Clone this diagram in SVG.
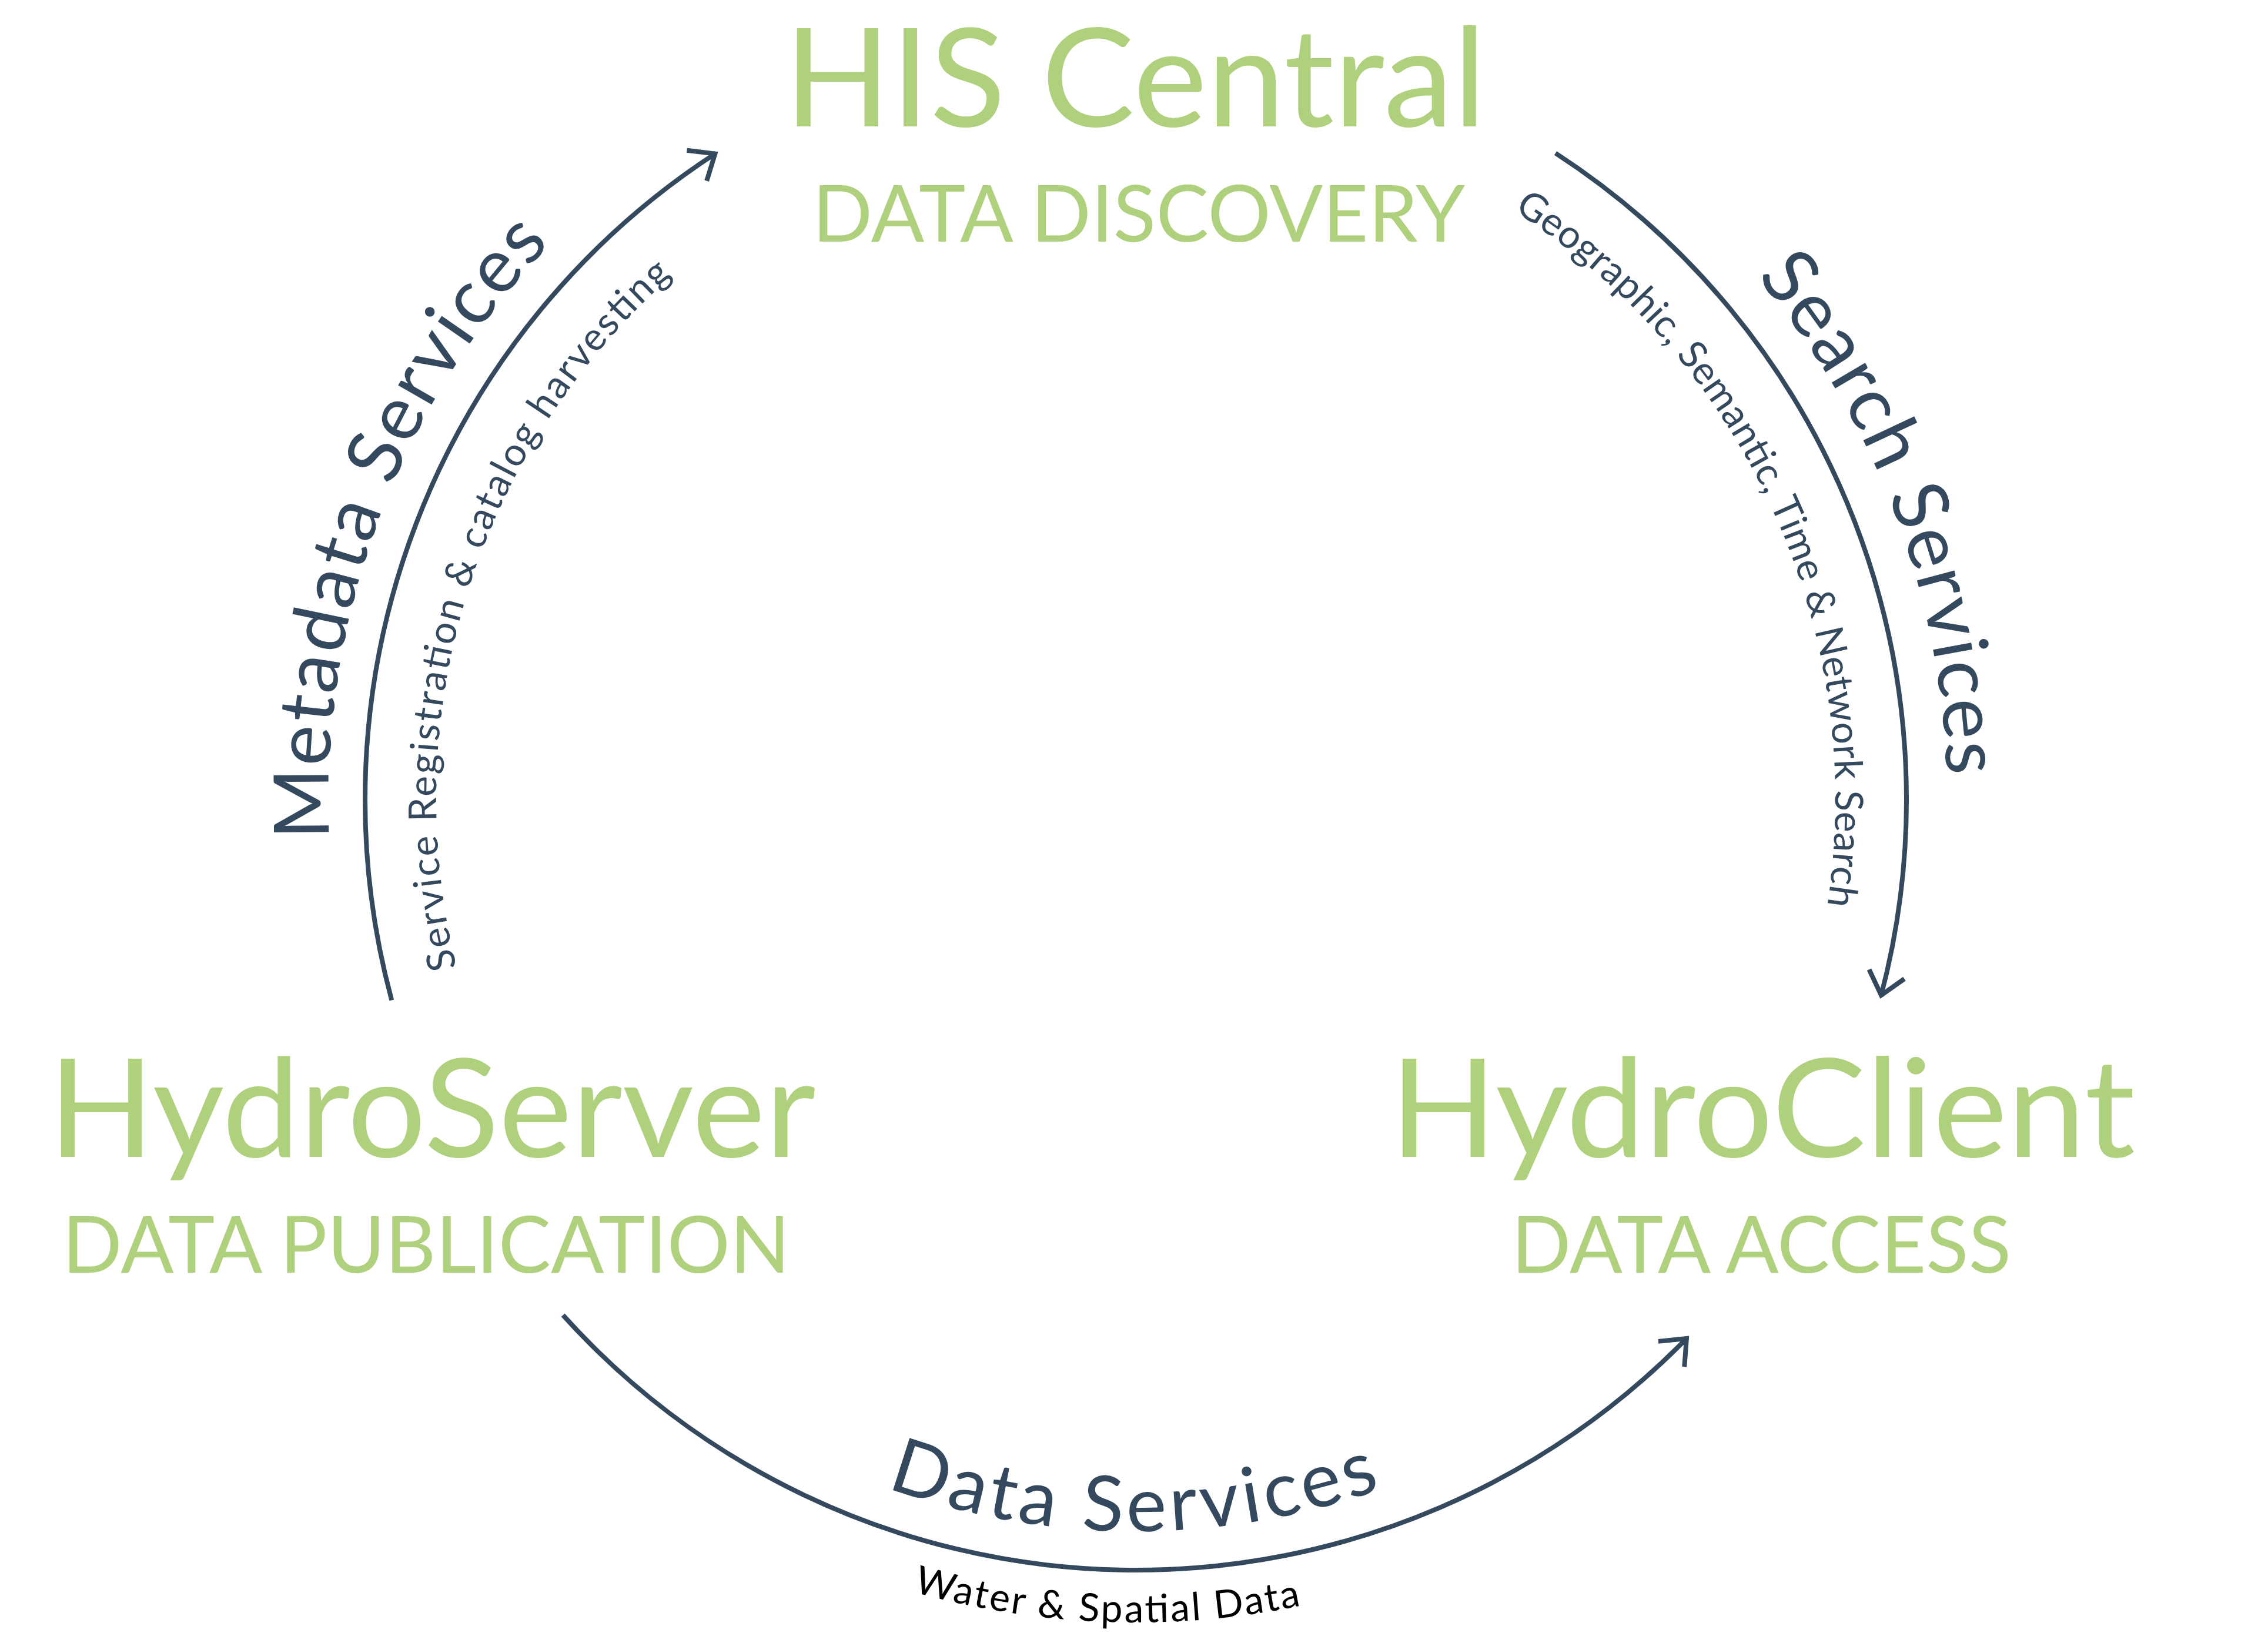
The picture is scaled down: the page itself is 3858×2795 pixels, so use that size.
<svg xmlns="http://www.w3.org/2000/svg" xmlns:xlink="http://www.w3.org/1999/xlink" width="3858" height="2795" viewBox="0 0 3858 2795">
<style>
  text { font-family: Lato, "Open Sans", "Liberation Sans", sans-serif; }
  .title { fill: #AFD07C; font-size: 233px; text-anchor: middle; }
  .sub { fill: #AFD07C; font-size: 134px; text-anchor: middle; }
  .big { fill: #34495E; font-size: 130px; }
  .small { fill: #34495E; font-size: 66px; }
  .black { fill: #000000; }
  .conn { fill: none; stroke: #34495E; stroke-width: 8; marker-end: url(#arr); }
</style>
<defs>
  <marker id="arr" markerUnits="userSpaceOnUse" markerWidth="120" markerHeight="120" viewBox="-60 -60 120 120" refX="0" refY="0" orient="auto" overflow="visible">
    <path d="M -39 -31 L -2 0 L -39 31" fill="none" stroke="#34495E" stroke-width="8"/>
  </marker>
  <path id="p-meta" d="M 560.6 1427.1 A 1373 1373 0 0 1 1245.5 171.0"/>
  <path id="p-meta-s" d="M 776.8 1645.9 A 1190 1190 0 0 1 1429.1 281.5"/>
  <path id="p-search" d="M 2987.6 471.1 A 1380 1380 0 0 1 3291.0 1599.6"/>
  <path id="p-search-s" d="M 2574.9 358.6 A 1190 1190 0 0 1 3050.2 1767.0"/>
  <path id="p-data" d="M 1508.2 2530.7 A 1245 1245 0 0 0 2646.1 2379.8"/>
  <path id="p-data-s" d="M 1553.2 2707.8 A 1400 1400 0 0 0 2523.7 2628.8"/>
</defs>
<rect x="0" y="0" width="3858" height="2795" fill="#ffffff"/>

<g id="node-his-central">
  <text class="title" x="1931" y="215" textLength="1194" lengthAdjust="spacingAndGlyphs">HIS Central</text>
  <text class="sub" x="1937" y="411" textLength="1110" lengthAdjust="spacingAndGlyphs">DATA DISCOVERY</text>
</g>
<g id="node-hydroserver">
  <text class="title" x="735" y="1968" textLength="1305" lengthAdjust="spacingAndGlyphs">HydroServer</text>
  <text class="sub" x="725" y="2165" textLength="1238" lengthAdjust="spacingAndGlyphs">DATA PUBLICATION</text>
</g>
<g id="node-hydroclient">
  <text class="title" x="2998" y="1968" textLength="1268" lengthAdjust="spacingAndGlyphs">HydroClient</text>
  <text class="sub" x="2996" y="2165" textLength="850" lengthAdjust="spacingAndGlyphs">DATA ACCESS</text>
</g>

<g id="connectors">
  <g id="conn-metadata">
    <path class="conn" d="M 666.3 1701.5 A 1311 1311 0 0 1 1218.0 260.5"/>
    <text class="big"><textPath xlink:href="#p-meta" href="#p-meta" textLength="1110" lengthAdjust="spacing">Metadata Services</textPath></text>
    <text class="small"><textPath xlink:href="#p-meta-s" href="#p-meta-s" textLength="1296" lengthAdjust="spacing">Service Registration &amp; catalog harvesting</textPath></text>
  </g>
  <g id="conn-search">
    <path class="conn" d="M 2646.0 260.5 A 1311 1311 0 0 1 3199.5 1694.9"/>
    <text class="big"><textPath xlink:href="#p-search" href="#p-search" textLength="925" lengthAdjust="spacing">Search Services</textPath></text>
    <text class="small"><textPath xlink:href="#p-search-s" href="#p-search-s" textLength="1371" lengthAdjust="spacing">Geographic, Semantic, Time &amp; Network Search</textPath></text>
  </g>
  <g id="conn-data">
    <path class="conn" d="M 957.7 2237.2 A 1311 1311 0 0 0 2870.3 2275.6"/>
    <text class="big"><textPath xlink:href="#p-data" href="#p-data" textLength="858" lengthAdjust="spacing">Data Services</textPath></text>
    <text class="small black"><textPath xlink:href="#p-data-s" href="#p-data-s" textLength="667" lengthAdjust="spacing">Water &amp; Spatial Data</textPath></text>
  </g>
</g>
</svg>
